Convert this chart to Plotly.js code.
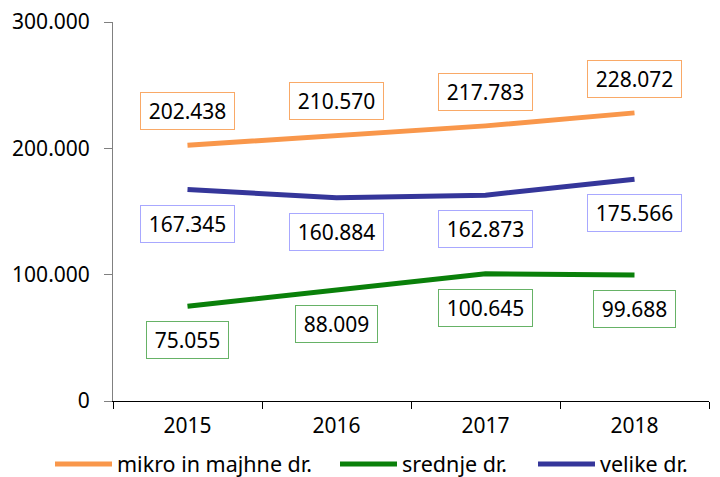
<!DOCTYPE html>
<html>
<head>
<meta charset="utf-8">
<script src="https://cdn.plot.ly/plotly-3.0.1.min.js"></script>
<style>html,body{margin:0;padding:0;background:#fff;}#chart{width:720px;height:477px;}</style>
</head>
<body>
<div id="chart"></div>
<script>
const years = ['2015', '2016', '2017', '2018'];
const mikro = [202438, 210570, 217783, 228072];
const srednje = [75055, 88009, 100645, 99688];
const velike = [167345, 160884, 162873, 175566];
const seriesNames = ['mikro in majhne dr.', 'srednje dr.', 'velike dr.'];
const yTicks = [0, 100000, 200000, 300000];

const FONT = 'Noto Sans, sans-serif';
const FS = 21;
const lineColors = ['#F9974B', '#0A800A', '#35369A'];
const boxColors = ['#F9A967', '#66B266', '#A8A8FF'];
const shifts = [34, -34, -34];
const legendIds = ['legend', 'legend2', 'legend3'];
const legendX = [50, 335, 533];

function fmt(v) { return String(v).replace(/\B(?=(\d{3})+(?!\d))/g, '.'); }
const cv = document.createElement('canvas').getContext('2d');
cv.font = FS + 'px "Noto Sans"';
function tw(s) { return cv.measureText(s).width; }

const allSeries = [mikro, srednje, velike];
const traces = allSeries.map((vals, i) => ({
  type: 'scatter', mode: 'lines', x: years, y: vals, name: seriesNames[i],
  legend: legendIds[i],
  line: {color: lineColors[i], width: 5}, hoverinfo: 'skip'
}));

const annotations = [];
allSeries.forEach((vals, i) => {
  vals.forEach((v, j) => {
    const t = fmt(v);
    annotations.push({
      x: j, y: v, xref: 'x', yref: 'y', text: t, showarrow: false,
      xanchor: 'center', yanchor: 'middle', yshift: shifts[i],
      font: {family: FONT, size: FS, color: '#000'},
      bordercolor: boxColors[i], borderwidth: 1, borderpad: 3,
      bgcolor: '#fff', width: Math.round(tw(t) + 9), height: 30
    });
  });
});

const layout = {
  width: 720, height: 477,
  margin: {l: 113, r: 11, t: 21.5, b: 75.5, autoexpand: false},
  paper_bgcolor: '#fff', plot_bgcolor: '#fff',
  separators: ',.',
  font: {family: FONT, size: FS, color: '#000'},
  showlegend: true,
  xaxis: {type: 'category', categoryarray: years, range: [-0.5, 3.5], autorange: false,
          showgrid: false, showline: true, linecolor: '#000', linewidth: 1,
          ticks: 'outside', tickson: 'boundaries', ticklen: 7, tickcolor: '#000', ticklabelstandoff: 6,
          tickfont: {family: FONT, size: FS, color: '#000'}, fixedrange: true},
  yaxis: {range: [0, 300000], autorange: false, tickvals: yTicks, tickformat: ',d', showgrid: false, zeroline: false,
          showline: true, linecolor: '#808080', linewidth: 1, ticks: 'outside', ticklen: 8,
          tickcolor: '#808080', ticklabelstandoff: 10,
          tickfont: {family: FONT, size: FS, color: '#000'}, fixedrange: true},
  annotations: annotations
};
legendIds.forEach((id, i) => {
  layout[id] = {orientation: 'h', xref: 'container', yref: 'container', x: legendX[i] / 720, xanchor: 'left',
                y: 1 - 464 / 477, yanchor: 'middle', bgcolor: 'rgba(0,0,0,0)',
                font: {family: FONT, size: 21.5, color: '#000'}, itemwidth: 57};
});

Plotly.newPlot('chart', traces, layout, {displayModeBar: false, staticPlot: true});
</script>
</body>
</html>
